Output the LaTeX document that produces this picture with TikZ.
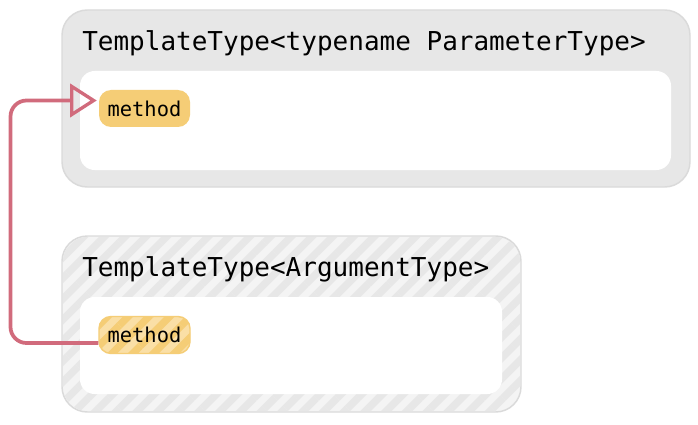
\documentclass[tikz,border=0pt]{standalone}
\usepackage{fontspec}
\setmonofont{DejaVu Sans Mono}
\usetikzlibrary{arrows.meta,patterns.meta}

\definecolor{boxgray}{HTML}{E7E7E7}
\definecolor{boxline}{HTML}{DADADA}
\definecolor{hatchbase}{HTML}{F4F4F4}
\definecolor{badgefill}{HTML}{F5CD76}
\definecolor{badgelight}{HTML}{FADFA6}
\definecolor{linkred}{HTML}{D16B7C}

\begin{document}
\begin{tikzpicture}[x=0.75pt,y=0.75pt,yscale=-1,xscale=1,
  outerbox/.style={draw=boxline, line width=1.1pt, rounded corners=19pt},
  innerbox/.style={fill=white, rounded corners=11pt},
  stripes/.style={pattern={Lines[angle=45, distance=11pt, line width=5.5pt]}},
  title/.style={anchor=base west, inner sep=0pt, font=\ttfamily\fontsize{19.5}{23}\selectfont},
  badge/.style={fill=badgefill, rounded corners=9pt, minimum width=68.25pt, minimum height=27.75pt, inner sep=0pt, font=\ttfamily\fontsize{15.3}{18}\selectfont},
  link/.style={draw=linkred, line width=2.8pt, rounded corners=12pt, -{Triangle[open, length=20pt, width=25pt, line width=2.5pt]}}]

\useasboundingbox (0, 0) rectangle (698, 424);

% template
\draw [outerbox, fill=boxgray] (62, 10) rectangle (690, 187);
\fill [innerbox] (80, 71) rectangle (671, 170);
\node (tmpl) [title] at (82, 51) {TemplateType<typename ParameterType>};
\node (meth) [badge] at (144.5, 108.5) {method};

% instantiation
\draw [outerbox, fill=hatchbase] (62, 236) rectangle (521, 412);
\fill [rounded corners=19pt, stripes, pattern color=boxgray] (62.8, 236.8) rectangle (520.2, 411.2);
\fill [innerbox] (80, 297) rectangle (502, 394);
\node (inst) [title] at (82, 276) {TemplateType<ArgumentType>};
\node (imeth) [badge, draw=badgefill, line width=1.1pt, preaction={fill=badgelight}, stripes, pattern color=badgefill] at (144.5, 335) {method};

\coordinate (bend) at (10.5, 0);
\coordinate (from) at ([yshift=6pt]imeth.west);
\coordinate (to) at ([xshift=-1.5pt, yshift=-6pt]meth.west);
\draw [link] (from) -- (from -| bend) -- (to -| bend) -- (to);
\end{tikzpicture}
\end{document}
